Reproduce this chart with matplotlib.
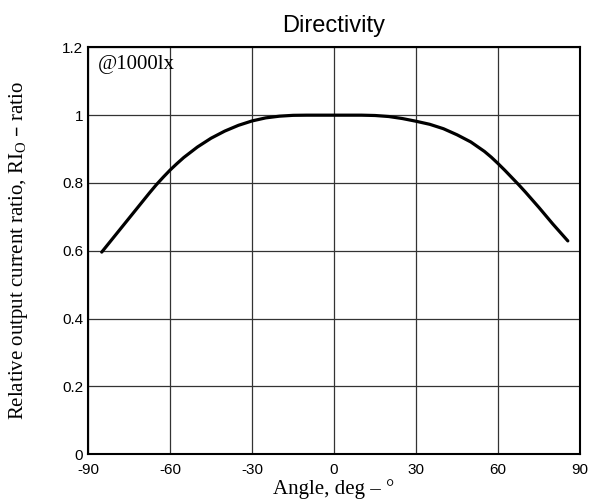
import matplotlib.pyplot as plt
import numpy as np

plt.rcParams["axes.unicode_minus"] = False

angles = [-85, -80, -75, -70, -67.5, -65, -62.5, -60, -57.5, -55, -50, -45, -40, -35, -30,
          -25, -20, -15, -10, 0, 10, 15, 20, 25, 30, 35, 40, 45, 50, 55, 57.5, 60, 62.5,
          65, 67.5, 70, 75, 80, 85.5]
ratio = [0.596, 0.646, 0.696, 0.746, 0.771, 0.795, 0.817, 0.838, 0.857, 0.875, 0.906, 0.932,
         0.953, 0.970, 0.983, 0.992, 0.997, 0.9995, 1.0, 1.0, 1.0, 0.999, 0.996, 0.990,
         0.982, 0.973, 0.960, 0.942, 0.921, 0.893, 0.876, 0.857, 0.837, 0.816, 0.795,
         0.773, 0.727, 0.679, 0.629]

x_ticks = [-90, -60, -30, 0, 30, 60, 90]
y_ticks = [0, 0.2, 0.4, 0.6, 0.8, 1.0, 1.2]
y_tick_labels = ["0", "0.2", "0.4", "0.6", "0.8", "1", "1.2"]

fig = plt.figure(figsize=(5.95, 5.04), dpi=100)
ax = fig.add_axes([0.148, 0.099, 0.827, 0.807])

ax.plot(angles, ratio, color="black", linewidth=2.3, solid_capstyle="round",
        solid_joinstyle="round")

ax.set_xlim(-90, 90)
ax.set_ylim(0, 1.2)
ax.set_xticks(x_ticks)
ax.set_yticks(y_ticks)
ax.set_yticklabels(y_tick_labels)
ax.grid(True, color="#333333", linewidth=0.9)
ax.tick_params(length=0, labelsize=11)
ax.tick_params(axis="x", pad=6.5)
ax.tick_params(axis="y", pad=3.5)
for lab in ax.get_xticklabels() + ax.get_yticklabels():
    lab.set_family("Liberation Sans")
for s in ax.spines.values():
    s.set_linewidth(1.5)

ax.set_title("Directivity", family="Liberation Sans", fontsize=17, pad=11)
ax.set_xlabel("Angle, deg – °", family="Liberation Serif", fontsize=15)
ax.xaxis.set_label_coords(0.5, -0.062)
ax.set_ylabel(r"Relative output current ratio, RI$\mathregular{_O}$ – ratio",
              family="Liberation Serif", fontsize=15)
ax.yaxis.set_label_coords(-0.118, 0.5)
ax.text(0.02, 0.982, "@1000lx", transform=ax.transAxes, ha="left", va="top",
        family="Liberation Serif", fontsize=15)

plt.savefig("out.png", dpi=100)
plt.close(fig)
